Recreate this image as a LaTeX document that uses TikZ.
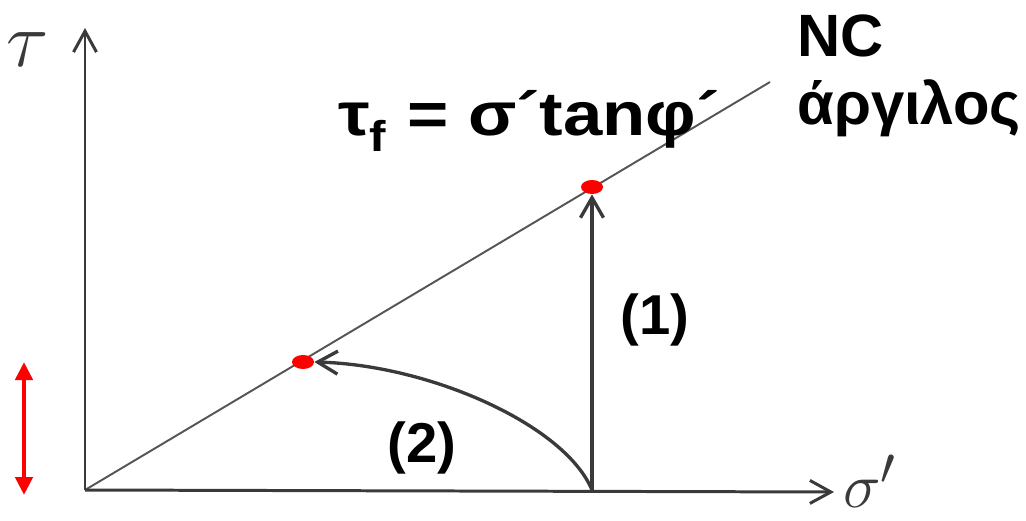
\documentclass[tikz,border=0pt]{standalone}
\usepackage{fontspec}
\setmainfont{Liberation Sans}
\usetikzlibrary{arrows.meta,positioning,shapes.geometric}
\definecolor{pencil}{HTML}{3A3A3A}
\definecolor{lead}{HTML}{555555}
\definecolor{dotred}{HTML}{FF0000}
\tikzset{
  axis/.style={draw=pencil,line width=1.7pt,-{Straight Barb[length=4.2mm,width=4.6mm]}},
  envl/.style={draw=lead,line width=1.1pt},
  pathr/.style={draw=pencil,line width=1.9pt,-{Straight Barb[length=4mm,width=4.6mm]}},
  fdot/.style={ellipse,fill=dotred,minimum width=4.4mm,minimum height=2.8mm,inner sep=0pt},
  lbl/.style={font=\fontsize{32}{34}\selectfont\bfseries,inner sep=0pt},
  big/.style={font=\fontsize{34}{36}\selectfont\bfseries,inner sep=0pt},
  hand/.style={font=\Huge,inner sep=0pt,text=pencil},
  redspan/.style={draw=dotred,line width=2.8pt,{Triangle[length=3.6mm,width=3.4mm]}-{Triangle[length=3.6mm,width=3.4mm]}},
}
\begin{document}
\begin{tikzpicture}[x=0.02cm,y=-0.02cm]
\useasboundingbox (0,0) rectangle (1026,520);
% axes and failure envelope
\coordinate (O) at (85,490);
\coordinate (ytip) at (85,28);
\coordinate (xtip) at (834,492);
\coordinate (lend) at (770,82);
\coordinate (s0) at (592,490);
\draw[envl] (O) -- (lend);
\draw[axis] (O) -- (ytip);
\draw[axis] (O) -- (xtip);
\node[hand] (tau) at (28,50) {\scalebox{1.8}{$\tau$}};
\node[hand] (sig) at (870,481) {\scalebox{1.45}{$\sigma'$}};
% failure points
\node[fdot] (p1) at (592,187) {};
\node[fdot] (p2) at (303,362) {};
% stress paths
\draw[pathr] (s0) -- (p1.south);
\draw[pathr] (s0) .. controls (565,425) and (430,365) .. (p2.east);
\node[lbl] (l1) at (655,320) {(1)};
\node[lbl] (l2) at (422,448) {(2)};
% labels
\node[big,anchor=base west,font=\fontsize{35}{36}\selectfont\bfseries,xscale=1.15] (law) at (338,135) {τ\textsubscript{f} = σ´tanφ´};
\node[big,anchor=base west] (nc) at (797,57) {NC};
\node[big,anchor=base west] (clay) at (797,125) {άργιλος};
% red range
\coordinate (r1) at (24,362);
\coordinate (r2) at (24,495);
\draw[redspan] (r1) -- (r2);
\end{tikzpicture}
\end{document}
